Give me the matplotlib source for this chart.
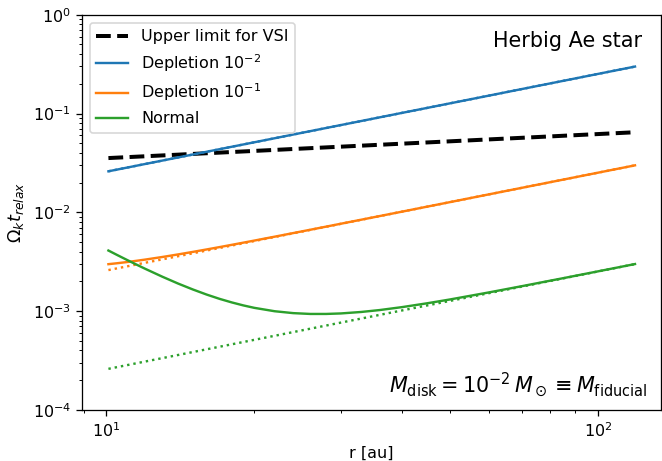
import matplotlib
matplotlib.use('Agg')
import matplotlib.pyplot as plt
import numpy as np

# radius grid [au]
r = np.array([10.1, 10.5, 11, 11.5, 12, 13, 14, 15, 16, 17, 18, 19, 20, 22,
              24, 26, 28, 30, 33, 36, 40, 45, 50, 60, 70, 85, 100, 119])

# upper limit for the VSI
vsi_limit = np.array([0.03540, 0.03574, 0.03614, 0.03654, 0.03692, 0.03765,
                      0.03833, 0.03899, 0.03961, 0.04020, 0.04076, 0.04130,
                      0.04182, 0.04281, 0.04373, 0.04459, 0.04540, 0.04617,
                      0.04726, 0.04827, 0.04953, 0.05097, 0.05230, 0.05468,
                      0.05677, 0.05953, 0.06194, 0.06462])

# relaxation times: solid = full, dotted = without the small-grain term
depl2 = np.array([0.02600, 0.02702, 0.02829, 0.02957, 0.03084, 0.03338,
                  0.03592, 0.03846, 0.04100, 0.04354, 0.04607, 0.04860,
                  0.05113, 0.05619, 0.06125, 0.06630, 0.07135, 0.07640,
                  0.08395, 0.09150, 0.1016, 0.1141, 0.1267, 0.1517,
                  0.1768, 0.2142, 0.2516, 0.2988])
depl1 = np.array([0.002984, 0.003046, 0.003131, 0.003224, 0.003321, 0.003527,
                  0.003746, 0.003973, 0.004206, 0.004443, 0.004683, 0.004926,
                  0.005170, 0.005662, 0.006159, 0.006657, 0.007157, 0.007658,
                  0.008409, 0.009161, 0.01016, 0.01142, 0.01267, 0.01518,
                  0.01768, 0.02142, 0.02516, 0.02988])
depl1_dot = np.array([0.002600, 0.002702, 0.002829, 0.002957, 0.003084,
                      0.003338, 0.003592, 0.003846, 0.004100, 0.004354,
                      0.004607, 0.004860, 0.005113, 0.005619, 0.006125,
                      0.006630, 0.007135, 0.007640, 0.008395, 0.009150,
                      0.01016, 0.01141, 0.01267, 0.01517, 0.01768, 0.02142,
                      0.02516, 0.02988])
normal = np.array([0.004100, 0.003714, 0.003307, 0.002966, 0.002678, 0.002228,
                   0.001898, 0.001654, 0.001469, 0.001329, 0.001223, 0.001141,
                   0.001078, 0.000996, 0.000953, 0.000935, 0.000935, 0.000946,
                   0.000979, 0.001024, 0.001097, 0.001200, 0.001310, 0.001544,
                   0.001785, 0.002152, 0.002522, 0.002992])
normal_dot = np.array([0.0002600, 0.0002702, 0.0002829, 0.0002957, 0.0003084,
                       0.0003338, 0.0003592, 0.0003846, 0.0004100, 0.0004354,
                       0.0004607, 0.0004860, 0.0005113, 0.0005619, 0.0006125,
                       0.0006630, 0.0007135, 0.0007640, 0.0008395, 0.0009150,
                       0.0010155, 0.0011413, 0.0012667, 0.0015173, 0.0017675,
                       0.002142, 0.002516, 0.002988])

dpi = 115
fig = plt.figure(figsize=(662 / dpi, 461 / dpi), dpi=dpi)
ax = fig.add_axes([0.124, 0.111, 0.875, 0.857])

ax.plot(r, vsi_limit, 'k--', lw=2.5, label='Upper limit for VSI')
ax.plot(r, depl2, color='C0', label=r'Depletion $10^{-2}$')
ax.plot(r, depl2, color='C0', ls=':')
ax.plot(r, depl1, color='C1', label=r'Depletion $10^{-1}$')
ax.plot(r, depl1_dot, color='C1', ls=':')
ax.plot(r, normal, color='C2', label='Normal')
ax.plot(r, normal_dot, color='C2', ls=':')

ax.set_xscale('log')
ax.set_yscale('log')
ax.set_ylim(1e-4, 1)
ax.set_xlabel('r [au]')
ax.set_ylabel(r'$\Omega_k t_{relax}$', fontsize=11)

ax.text(0.966, 0.958, 'Herbig Ae star', transform=ax.transAxes,
        ha='right', va='top', fontsize=13)
ax.text(0.976, 0.028, r'$M_{\rm disk} = 10^{-2}\,M_\odot \equiv M_{\rm fiducial}$',
        transform=ax.transAxes, ha='right', va='bottom', fontsize=13)

ax.legend(loc='upper left')

fig.savefig('out.png', dpi=dpi)
